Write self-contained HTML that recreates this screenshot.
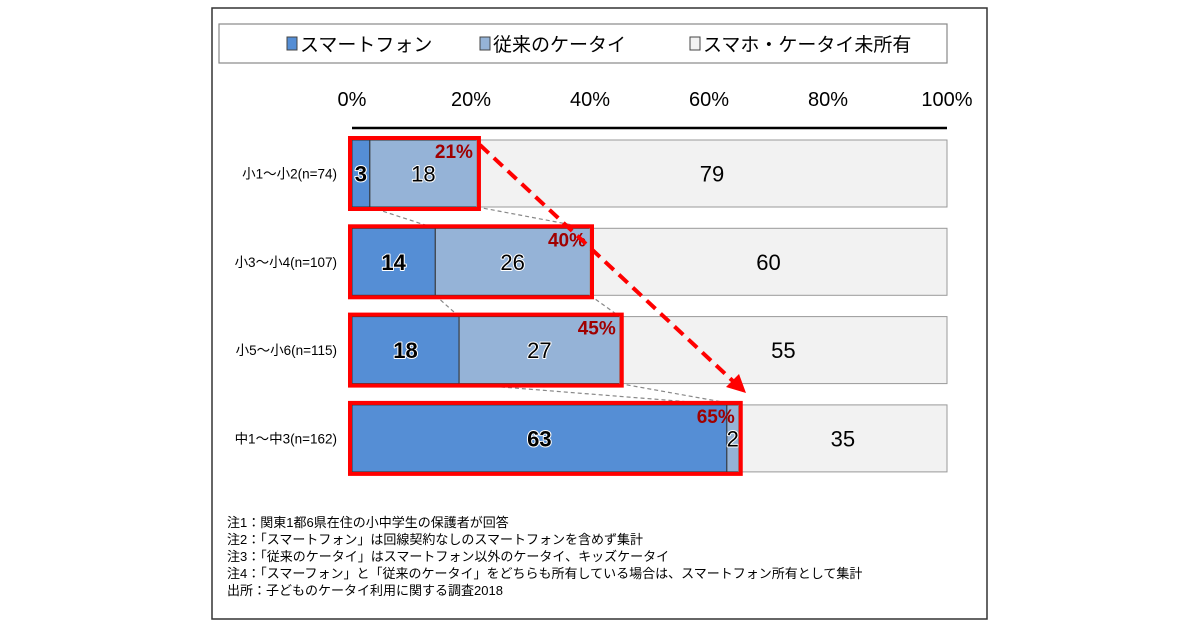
<!DOCTYPE html>
<html><head><meta charset="utf-8">
<style>
body{margin:0;background:#fff;width:1200px;height:630px;overflow:hidden;font-family:"Liberation Sans","Noto Sans CJK JP",sans-serif;}
svg{position:absolute;left:0;top:0}
.vl{paint-order:stroke;stroke:#fff;stroke-width:2px;stroke-linejoin:round}
</style></head>
<body>
<svg id="c" width="1200" height="630"></svg>
<script>
const categories=["小1～小2(n=74)","小3～小4(n=107)","小5～小6(n=115)","中1～中3(n=162)"];
const smartphone=[3,14,18,63];
const feature=[18,26,27,2];
const none=[79,60,55,35];
const totals=["21%","40%","45%","65%"];
const ticks=[0,20,40,60,80,100];
const seriesNames=["スマートフォン","従来のケータイ","スマホ・ケータイ未所有"];
const colors=["#558ed5","#95b3d7","#f2f2f2"];
const notes=["注1：関東1都6県在住の小中学生の保護者が回答","注2：「スマートフォン」は回線契約なしのスマートフォンを含めず集計","注3：「従来のケータイ」はスマートフォン以外のケータイ、キッズケータイ","注4：「スマーフォン」と「従来のケータイ」をどちらも所有している場合は、スマートフォン所有として集計","出所：子どものケータイ利用に関する調査2018"];

const svg=document.getElementById('c');const NS="http://www.w3.org/2000/svg";
function mk(t,a,p){const e=document.createElementNS(NS,t);for(const k in a)e.setAttribute(k,a[k]);(p||svg).appendChild(e);return e;}
const x0=352,x1=947;const X=v=>x0+(x1-x0)*v/100;
const rowTop=[140,228,316,405],barH=67;
const Y=i=>rowTop[0]+i*88.3;

let f=mk('rect',{x:212,y:8,width:775,height:611,fill:'#fff',stroke:'#333','stroke-width':1.5});

let lg=mk('rect',{x:219,y:24,width:728,height:39,fill:'#fff',stroke:'#888','stroke-width':1.2});

const lx=[287,480,690];
seriesNames.forEach((n,i)=>{
 const g=mk('g',{});
 
 mk('rect',{x:lx[i],y:37,width:10,height:13,fill:colors[i],stroke:'#444','stroke-width':1},g);
 const t=mk('text',{x:lx[i]+13,y:51,'font-size':19,fill:'#000'},g);t.textContent=n;
});
ticks.forEach(v=>{const t=mk('text',{x:X(v),y:106,'font-size':20,'text-anchor':'middle',fill:'#000'});t.textContent=v+'%';
 });
let ax=mk('line',{x1:x0,y1:128,x2:x1,y2:128,stroke:'#000','stroke-width':2.5});


for(let i=0;i<3;i++){
 const yb=Y(i)+barH,yt=Y(i+1);
 [smartphone[i],smartphone[i]+feature[i]].forEach((v,k)=>{
  const v2=k?smartphone[i+1]+feature[i+1]:smartphone[i+1];
  const l=mk('line',{x1:X(v),y1:yb,x2:X(v2),y2:yt,stroke:'#888','stroke-width':1.2,'stroke-dasharray':'4 3'});
  
 });
}
categories.forEach((c,i)=>{
 const y=Y(i);
 const t=mk('text',{x:337,y:y+barH/2+5,'font-size':13.5,'text-anchor':'end',fill:'#000'});t.textContent=c;
 
 const vals=[smartphone[i],feature[i],none[i]];let acc=0;
 vals.forEach((v,k)=>{
  const r=mk('rect',{x:X(acc),y:y,width:X(acc+v)-X(acc),height:barH,fill:colors[k],stroke:k==2?'#999':'#333','stroke-width':1});
  
  const lt=mk('text',{x:(X(acc)+X(acc+v))/2,y:y+barH/2+8,'font-size':22,'text-anchor':'middle',fill:'#000','font-weight':k==0?'bold':'normal','class':k<2?'vl':''});
  lt.textContent=v;
  acc+=v;
 });
 const cum=smartphone[i]+feature[i];
 const rb=mk('rect',{x:x0-2,y:y-2,width:X(cum)-x0+4,height:barH+4,fill:'none',stroke:'#f00','stroke-width':4});
 
 const tt=mk('text',{x:X(cum)-4,y:y+18,'font-size':19,'font-weight':'bold','text-anchor':'end',fill:'#a00000'});
 tt.textContent=totals[i];
});
let ar=mk('line',{x1:480,y1:145,x2:735,y2:383,stroke:'#f00','stroke-width':4,'stroke-dasharray':'12 7'});

let ah=mk('polygon',{points:'746,393 726,387 739,374',fill:'#f00'});

notes.forEach((n,i)=>{const t=mk('text',{x:227,y:527+i*17,'font-size':13,fill:'#000'});t.textContent=n;
 });
</script>
</body></html>
